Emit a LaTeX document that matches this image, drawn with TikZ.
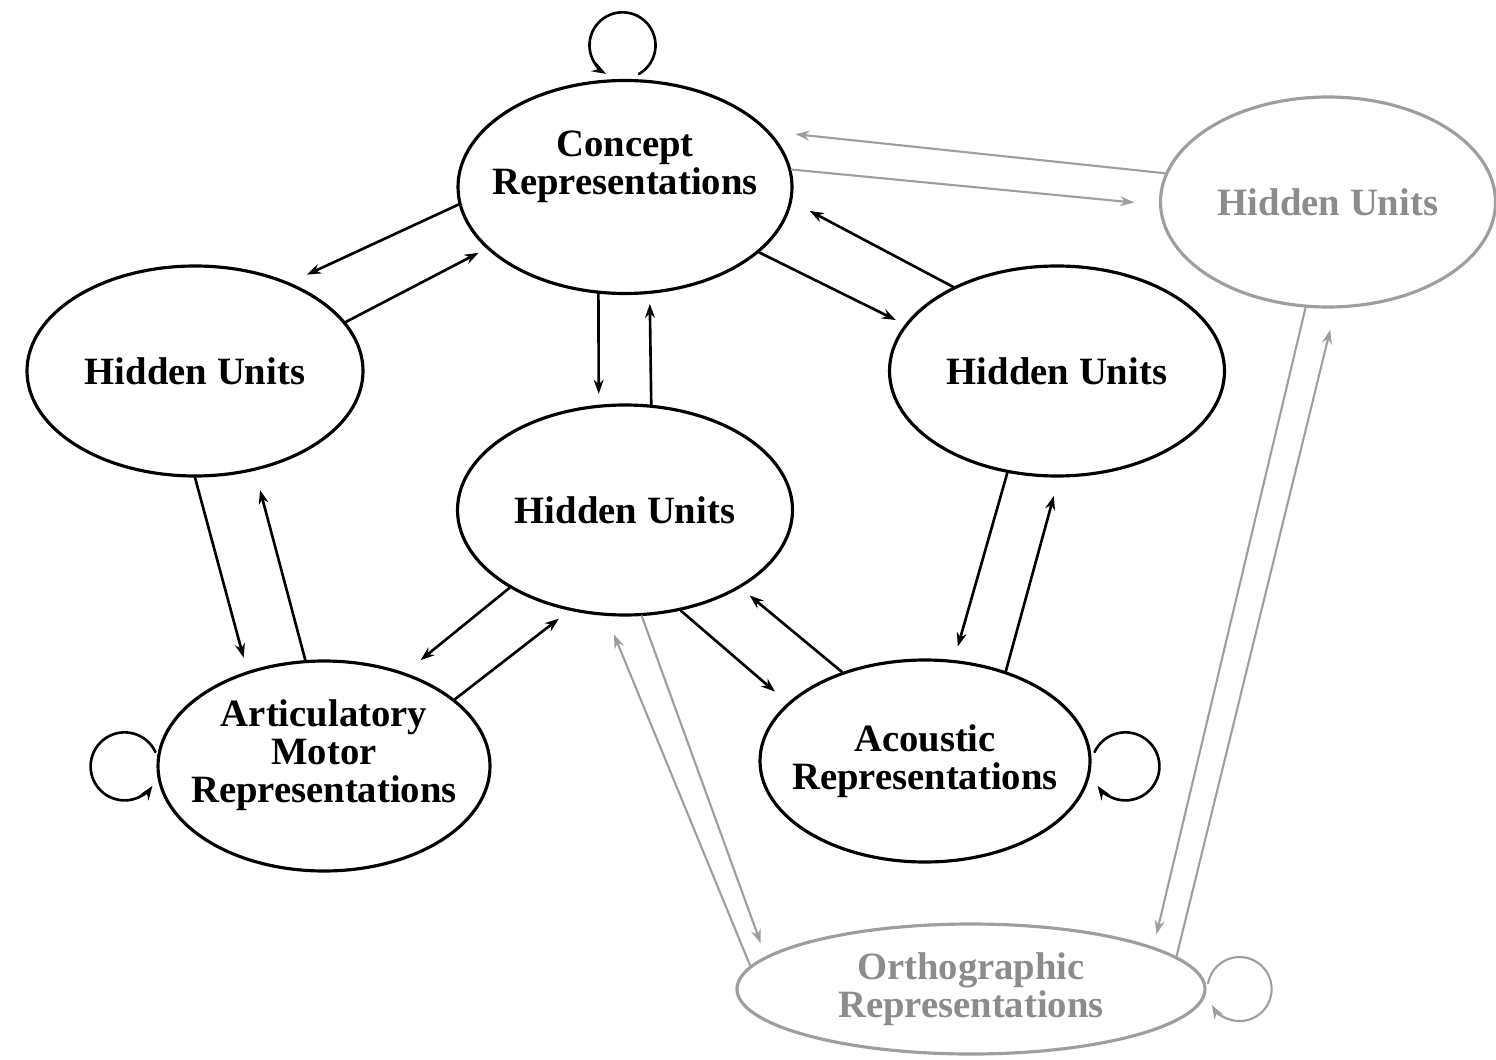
\documentclass[tikz,border=0pt]{standalone}
\usepackage{fontspec}
\setmainfont{Liberation Serif}
\usetikzlibrary{shapes.geometric,arrows.meta}
\definecolor{fadeline}{gray}{0.62}
\definecolor{fadetext}{gray}{0.55}
\tikzset{
  unit/.style={ellipse, draw, line width=0.9pt, minimum width=3.35cm, minimum height=2.1cm,
    inner sep=-1cm, align=center, font=\fontsize{11}{10.8}\selectfont\bfseries},
  ghost/.style={unit, draw=fadeline, text=fadetext},
  link/.style={->, line width=0.75pt},
  glink/.style={->, line width=0.6pt, draw=fadeline},
}
\begin{document}
\begin{tikzpicture}[>={Stealth[length=1.4mm,width=1mm]}, line join=round, line cap=round]
\useasboundingbox (0,0) rectangle (14.96,10.59);
% units
\node[unit, minimum width=3.34cm, minimum height=2.13cm, text depth=0.49cm] (concept) at (6.25,8.72) {Concept\\Representations};
\node[unit, minimum width=3.36cm] (hidL) at (1.95,6.88) {Hidden Units};
\node[unit] (hidC) at (6.25,5.49) {Hidden Units};
\node[unit] (hidR) at (10.57,6.88) {Hidden Units};
\node[ghost] (hidFar) at (13.28,8.57) {Hidden Units};
\node[unit, minimum width=3.32cm, text depth=0.29cm] (artic) at (3.24,2.93) {Articulatory\\Motor\\Representations};
\node[unit, minimum width=3.3cm, minimum height=2.02cm] (acoust) at (9.25,2.98) {Acoustic\\Representations};
\node[ghost, minimum width=4.68cm, minimum height=1.3cm] (ortho) at (9.71,0.70) {Orthographic\\Representations};
% connections
\foreach \a/\s/\b/\t/\g in {concept/186/hidL/43/0.19, hidL/18/concept/204/0.09,
  concept/256/hidC/104/0.11, hidC/76/concept/283/0.1,
  concept/334/hidR/163/0.1, hidR/141/concept/355/0.2,
  hidL/270/artic/129/0.14, artic/100/hidL/301/0.2,
  hidC/214/artic/49/0.2, artic/27/hidC/241/0.13,
  hidC/299/acoust/157/0.17, acoust/133/hidC/326/0.12,
  hidR/244/acoust/74/0.14, acoust/48/hidR/271/0.19}{
\draw[link, shorten >=\g cm] (\a.\s)--(\b.\t);
}
\foreach \a/\s/\b/\t/\g in {hidFar/170/concept/21/0.26, concept/6/hidFar/181/0.25,
  ortho/174/hidC/260/0.2, hidC/279/ortho/171/0.14,
  hidFar/258/ortho/13/0.13, ortho/9/hidFar/274/0.22}{
\draw[glink, shorten >=\g cm] (\a.\s)--(\b.\t);
}
% self loops
\draw[link] ([shift={(0.14,0.05)}]concept.north) arc[start angle=-60, end angle=240, radius=0.33];
\draw[link] ([shift={(-0.01,0.14)}]artic.west) arc[start angle=25, end angle=325, radius=0.34];
\draw[link] ([shift={(0.03,0.09)}]acoust.east) arc[start angle=155, end angle=-145, radius=0.34];
\draw[glink] ([shift={(0.015,0.055)}]ortho.east) arc[start angle=170, end angle=-150, radius=0.32];
\end{tikzpicture}
\end{document}
